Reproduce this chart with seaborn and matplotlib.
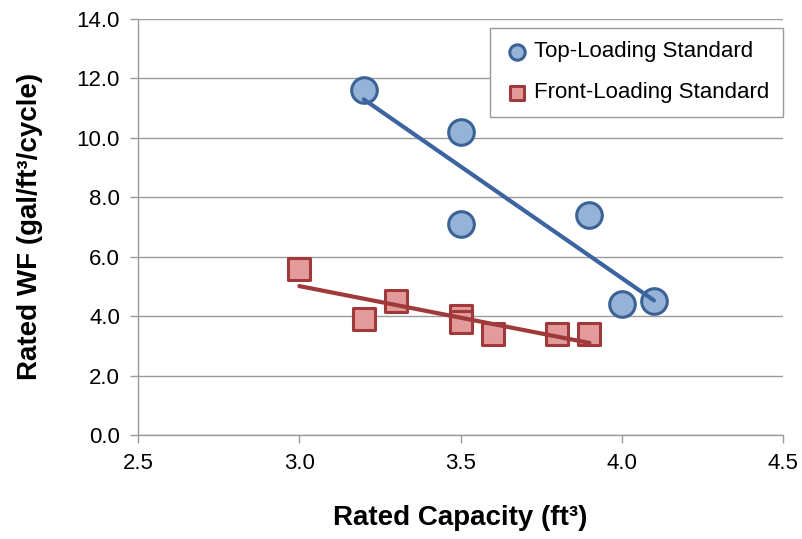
"""Rated WF vs rated capacity scatter with linear trend lines."""

import matplotlib

matplotlib.use("Agg")
import matplotlib.pyplot as plt
import pandas as pd
import seaborn as sns

# top-loading standard units
top_capacity = [3.2, 3.5, 3.5, 3.9, 4.0, 4.1]
top_wf = [11.6, 10.2, 7.1, 7.4, 4.4, 4.5]

# front-loading standard units
front_capacity = [3.0, 3.2, 3.3, 3.5, 3.5, 3.6, 3.8, 3.9]
front_wf = [5.6, 3.9, 4.5, 4.0, 3.8, 3.4, 3.4, 3.4]

x_ticks = [2.5, 3.0, 3.5, 4.0, 4.5]
y_ticks = [0, 2, 4, 6, 8, 10, 12, 14]

top = pd.DataFrame({"cap": top_capacity, "wf": top_wf})
front = pd.DataFrame({"cap": front_capacity, "wf": front_wf})

sns.set_style("white")
plt.rcParams["font.family"] = ["Liberation Sans", "DejaVu Sans"]
plt.rcParams["text.color"] = "black"

fig = plt.figure(figsize=(8.03, 5.39), dpi=100)
ax = fig.add_axes([0.172, 0.193, 0.803, 0.772])

grid_c = "#9a9a9a"
ax.set_axisbelow(True)
ax.yaxis.grid(True, color=grid_c, lw=1)

sns.scatterplot(data=top, x="cap", y="wf", ax=ax, marker="o", s=340,
                color="#95b3d7", edgecolor="#3a6296", linewidth=2.2,
                label="Top-Loading Standard", zorder=3)
sns.scatterplot(data=front, x="cap", y="wf", ax=ax, marker="s", s=250,
                color="#e39a9a", edgecolor="#a03a3a", linewidth=2.2,
                label="Front-Loading Standard", zorder=3)

# linear trend lines over the data range
sns.regplot(data=top, x="cap", y="wf", ax=ax, scatter=False, ci=None,
            line_kws={"color": "#3b64a0", "lw": 3, "zorder": 4})
sns.regplot(data=front, x="cap", y="wf", ax=ax, scatter=False, ci=None,
            line_kws={"color": "#a03a3a", "lw": 3, "zorder": 4})

ax.set_xlim(2.5, 4.5)
ax.set_ylim(0, 14)
ax.set_xticks(x_ticks)
ax.set_yticks(y_ticks)
ax.set_xticklabels([f"{v:.1f}" for v in x_ticks], fontsize=16, color="black")
ax.set_yticklabels([f"{v:.1f}" for v in y_ticks], fontsize=16, color="black")
ax.tick_params(axis="both", direction="out", length=6, width=1,
               color=grid_c, pad=7, bottom=True, left=True)

for side in ["top", "right"]:
    ax.spines[side].set_visible(False)
for side in ["left", "bottom"]:
    ax.spines[side].set_color(grid_c)
    ax.spines[side].set_linewidth(1)

ax.set_xlabel("Rated Capacity (ft³)", fontsize=20, fontweight="bold",
              labelpad=22, color="black")
ax.set_ylabel("Rated WF (gal/ft³/cycle)", fontsize=20, fontweight="bold",
              labelpad=24, color="black")

leg = ax.legend(loc="upper right", bbox_to_anchor=(1.0, 0.978), fontsize=16,
                frameon=True, fancybox=False, edgecolor=grid_c, framealpha=1,
                markerscale=0.6, handletextpad=0.2, borderpad=0.6,
                labelspacing=0.9, handlelength=1.2, borderaxespad=0)
leg.get_frame().set_linewidth(1)

fig.savefig("out.png", dpi=100)
